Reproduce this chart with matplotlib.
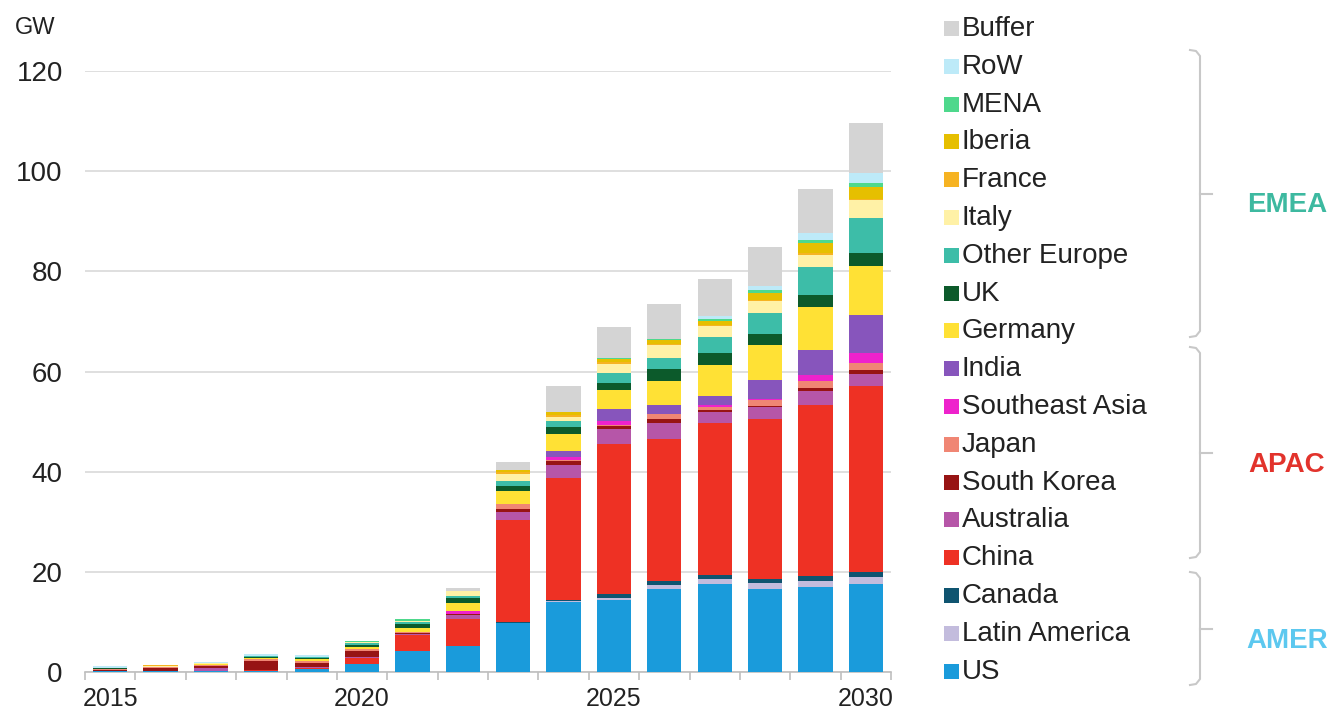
import matplotlib
matplotlib.use("Agg")
import matplotlib.pyplot as plt
from matplotlib.patches import Rectangle
from matplotlib.lines import Line2D
import numpy as np

plt.rcParams['font.family'] = ['Liberation Sans', 'DejaVu Sans']

years = list(range(2015, 2031))
tick_years = [2015, 2020, 2025, 2030]

# stacked from bottom to top
series_names = ["US", "Latin America", "Canada", "China", "Australia", "South Korea",
                "Japan", "Southeast Asia", "India", "Germany", "UK", "Other Europe",
                "Italy", "France", "Iberia", "MENA", "RoW", "Buffer"]

us            = [0.2, 0.1, 0.2, 0.1, 0.5, 1.5, 4.1, 5.1, 9.7, 14.0, 14.3, 16.5, 17.5, 16.5, 17.0, 17.6]
latin_america = [0, 0, 0, 0, 0, 0, 0, 0, 0.1, 0.1, 0.5, 0.8, 1.0, 1.3, 1.2, 1.3]
canada        = [0, 0, 0, 0, 0, 0, 0, 0, 0.1, 0.2, 0.8, 0.9, 0.9, 0.7, 1.0, 1.0]
china         = [0, 0, 0, 0.3, 0.3, 1.2, 3.2, 5.5, 20.4, 24.5, 30.0, 28.4, 30.3, 32.0, 34.2, 37.2]
australia     = [0, 0.1, 0.5, 0, 0.2, 0.2, 0.2, 0.8, 1.7, 2.6, 3.0, 3.2, 2.3, 2.4, 2.7, 2.5]
south_korea   = [0.2, 0.5, 0.4, 1.8, 0.8, 1.2, 0.2, 0.1, 0.5, 0.8, 0.5, 0.8, 0.4, 0.3, 0.6, 0.6]
japan         = [0.1, 0.2, 0.3, 0.3, 0.3, 0.4, 0.2, 0.1, 1.0, 0.2, 0.3, 0.9, 0.5, 1.2, 1.4, 1.5]
se_asia       = [0, 0, 0, 0, 0, 0, 0, 0.5, 0, 0.6, 0.7, 0.1, 0.5, 0.2, 1.2, 1.9]
india         = [0, 0, 0, 0, 0, 0, 0, 0, 0.1, 1.2, 2.5, 1.8, 1.8, 3.7, 5.0, 7.6]
germany       = [0.1, 0.1, 0.2, 0.3, 0.4, 0.4, 0.9, 1.7, 2.5, 3.3, 3.8, 4.8, 6.0, 7.0, 8.5, 9.9]
uk            = [0.1, 0, 0, 0.2, 0.3, 0.4, 0.8, 1.0, 1.0, 1.4, 1.3, 2.3, 2.4, 2.2, 2.5, 2.5]
other_europe  = [0, 0, 0, 0.2, 0.2, 0.4, 0.3, 0.3, 1.1, 1.2, 2.0, 2.1, 3.2, 4.1, 5.5, 7.0]
italy         = [0.1, 0.2, 0.1, 0, 0, 0.2, 0.3, 1.0, 1.3, 0.9, 1.7, 2.6, 2.2, 2.5, 2.5, 3.6]
france        = [0, 0.1, 0, 0, 0, 0, 0, 0, 0.4, 0.3, 0.4, 0.2, 0.2, 0.2, 0.3, 0.3]
iberia        = [0, 0, 0, 0, 0, 0, 0, 0, 0.4, 0.6, 0.7, 0.8, 0.9, 1.3, 2.1, 2.4]
mena          = [0, 0, 0, 0, 0, 0.3, 0.3, 0, 0, 0, 0.1, 0.3, 0.3, 0.6, 0.5, 0.7]
row           = [0.3, 0, 0.3, 0.3, 0.3, 0, 0, 0, 0, 0, 0, 0, 0.7, 0.9, 1.4, 2.0]
buffer        = [0, 0, 0, 0, 0, 0, 0, 0.7, 1.6, 5.3, 6.2, 6.9, 7.3, 7.8, 8.8, 10.1]

series_values = [us, latin_america, canada, china, australia, south_korea, japan, se_asia,
                 india, germany, uk, other_europe, italy, france, iberia, mena, row, buffer]

colors = ["#1A9BDB", "#C3BCDD", "#0F5470", "#EE3124", "#B656A8", "#971414",
          "#F08674", "#EE22CC", "#8755BC", "#FFE135", "#0C5A2B", "#3DBDA8",
          "#FFF1A6", "#F6B322", "#E6BF00", "#4ED88C", "#BDEAF8", "#D4D4D4"]

groups = [("EMEA", "#3DB9A0", 50, 337), ("APAC", "#E2332C", 347, 558), ("AMER", "#5CC8EF", 572, 685)]

W, H = 1342, 726
fig = plt.figure(figsize=(W / 100, H / 100), dpi=100)
ax = fig.add_axes([85 / W, 1 - 672 / H, 806 / W, 601 / H])

x = np.array(years, dtype=float)
bottom = np.zeros(len(years))
for name, vals, c in zip(series_names, series_values, colors):
    v = np.array(vals, dtype=float)
    ax.bar(x, v, bottom=bottom, width=0.68, color=c, edgecolor='none', label=name, zorder=3)
    bottom += v

ax.set_xlim(2014.5, 2030.5)
ax.set_ylim(0, 120)
ax.set_yticks(range(0, 121, 20))
ax.yaxis.grid(True, color="#D9D9D9", linewidth=1.2, zorder=0)
ax.set_axisbelow(True)
for s in ["left", "right", "top"]:
    ax.spines[s].set_visible(False)
ax.spines["bottom"].set_color("#BFBFBF")
ax.spines["bottom"].set_linewidth(1.2)

ax.set_xticks(tick_years)
ax.set_xticklabels([str(y) for y in tick_years])
ax.set_xticks(np.arange(2014.5, 2031, 1.0), minor=True)
ax.tick_params(axis='x', which='major', length=0, pad=11, labelsize=18, labelcolor="#222222")
ax.tick_params(axis='x', which='minor', length=6, color="#BFBFBF", width=1.2)
ax.tick_params(axis='y', length=0, pad=16, labelsize=20, labelcolor="#222222")

fig.text(15 / W, 1 - 28 / H, "GW", fontsize=17, color="#222222", va='center', ha='left')

# legend (top to bottom)
row_h = 37.8
for i, (name, c) in enumerate(zip(series_names[::-1], colors[::-1])):
    yc = 29 + i * row_h
    fig.patches.append(Rectangle((944 / W, 1 - (yc + 7) / H), 15 / W, 15 / H,
                                 transform=fig.transFigure, facecolor=c, edgecolor='none'))
    fig.text(962 / W, 1 - yc / H, name, fontsize=20, color="#222222", va='center', ha='left')

# braces
bc = "#C8C8C8"
for label, col, y0, y1 in groups:
    xv = 1200
    ym = (y0 + y1) / 2
    pts_x = [1190, 1196, 1200, 1200, 1196, 1190]
    pts_y = [y0, y0 + 1, y0 + 6, y1 - 6, y1 - 1, y1]
    fig.add_artist(Line2D([p / W for p in pts_x], [1 - p / H for p in pts_y],
                          transform=fig.transFigure, color=bc, linewidth=1.5))
    fig.add_artist(Line2D([xv / W, 1212 / W], [1 - ym / H, 1 - ym / H],
                          transform=fig.transFigure, color=bc, linewidth=1.5))
    fig.text(1287 / W, 1 - (ym + 12) / H, label, fontsize=20, fontweight='bold',
             color=col, va='center', ha='center')

fig.savefig("out.png", dpi=100)
